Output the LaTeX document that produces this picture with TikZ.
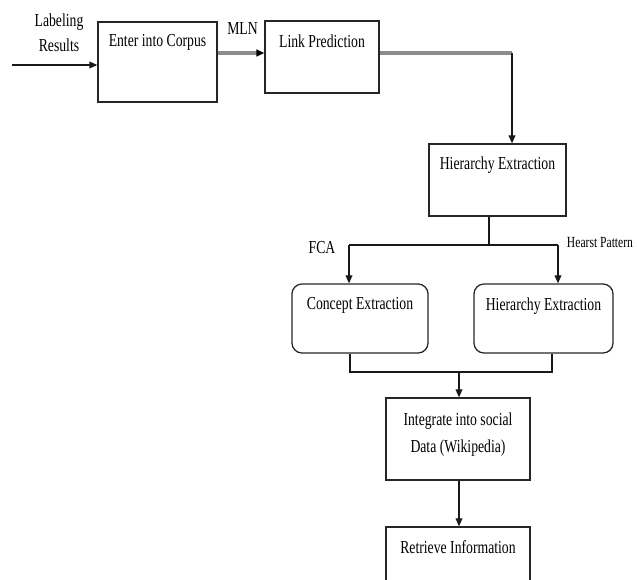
\documentclass[tikz,border=0pt]{standalone}
\usepackage{fontspec}
\setmainfont{Liberation Serif}[FakeStretch=0.75]
\usetikzlibrary{arrows.meta, positioning, calc}

\begin{document}
\begin{tikzpicture}[
  x=0.025cm, y=-0.025cm,
  >={Triangle[length=2mm, width=1.7mm]},
  box/.style   = {draw=black!85, line width=0.9pt, inner sep=0pt},
  rbox/.style  = {box, rounded corners=2.5mm},
  txt/.style   = {inner sep=0pt, align=center, font=\fontsize{13}{19}\selectfont},
  lab/.style   = {inner sep=0pt, align=center, font=\fontsize{13}{18}\selectfont},
  conn/.style  = {line width=0.8pt, black!90},
  heavy/.style = {line width=2.2pt, black!45}
]
\useasboundingbox (0,0) rectangle (637,579);
\clip (0,0) rectangle (637,579);

% boxes
\node[box, minimum width=2.975cm, minimum height=2cm] (corpus) at (157.5,62) {};
\node[box, minimum width=2.85cm, minimum height=1.8cm] (linkp) at (322,57) {};
\node[box, minimum width=3.425cm, minimum height=1.8cm] (hier) at (497.5,180) {};
\node[rbox, minimum width=3.4cm, minimum height=1.725cm] (concept) at (360,318.5) {};
\node[rbox, minimum width=3.475cm, minimum height=1.725cm] (hierb) at (543.5,318.5) {};
\node[box, minimum width=3.6cm, minimum height=2.05cm] (integ) at (458,439) {};
\node[box, minimum width=3.6cm, minimum height=1.75cm] (retr) at (458,562) {};

% box texts
\node[txt, below=0.33cm of corpus.north] (corpustxt) {Enter into Corpus};
\node[txt, below=0.35cm of linkp.north] (linkptxt) {Link Prediction};
\node[txt, below=0.33cm of hier.north] (hiertxt) {Hierarchy Extraction};
\node[txt, below=0.35cm of concept.north] (concepttxt) {Concept Extraction};
\node[txt, below=0.35cm of hierb.north] (hierbtxt) {Hierarchy Extraction};
\node[txt, below=0.38cm of integ.north] (integtxt) {Integrate into social\\Data (Wikipedia)};
\node[txt, below=0.35cm of retr.north] (retrtxt) {Retrieve Information};

% labels
\node[lab] (labres) at (59,33) {Labeling\\Results};
\node[lab] (mln) at (242.5,29) {MLN};
\node[lab] (fca) at (322,248) {FCA};
\node[lab, font=\fontsize{11}{13}\selectfont] (hearst) at (600,243) {Hearst Pattern};

% connectors
\coordinate (start) at (12,65);
\draw[conn, ->] (start) -- (start -| corpus.west);

\coordinate (mlny) at (0,53);
\draw[heavy, -{Triangle[length=2mm, width=1.7mm, color=black, fill=black]}]
  (corpus.east |- mlny) -- (linkp.west |- mlny);

\coordinate (bend) at (512,53);
\draw[heavy] (linkp.east |- bend) -- (bend);
\draw[conn, ->] (bend) -- (bend |- hier.north);

\coordinate (fork) at (489,245);
\coordinate (forkl) at (349,245);
\coordinate (forkr) at (558,245);
\draw[conn] (fork |- hier.south) -- (fork);
\draw[conn] (forkl) -- (forkr);
\draw[conn, ->] (forkl) -- (forkl |- concept.north);
\draw[conn, ->] (forkr) -- (forkr |- hierb.north);

\coordinate (joinl) at (350,372);
\coordinate (joinr) at (552,372);
\coordinate (joinm) at (459,372);
\draw[conn] (joinl |- concept.south) -- (joinl) -- (joinr) -- (joinr |- hierb.south);
\draw[conn, ->] (joinm) -- (joinm |- integ.north);
\draw[conn, ->] (joinm |- integ.south) -- (joinm |- retr.north);
\end{tikzpicture}
\end{document}
